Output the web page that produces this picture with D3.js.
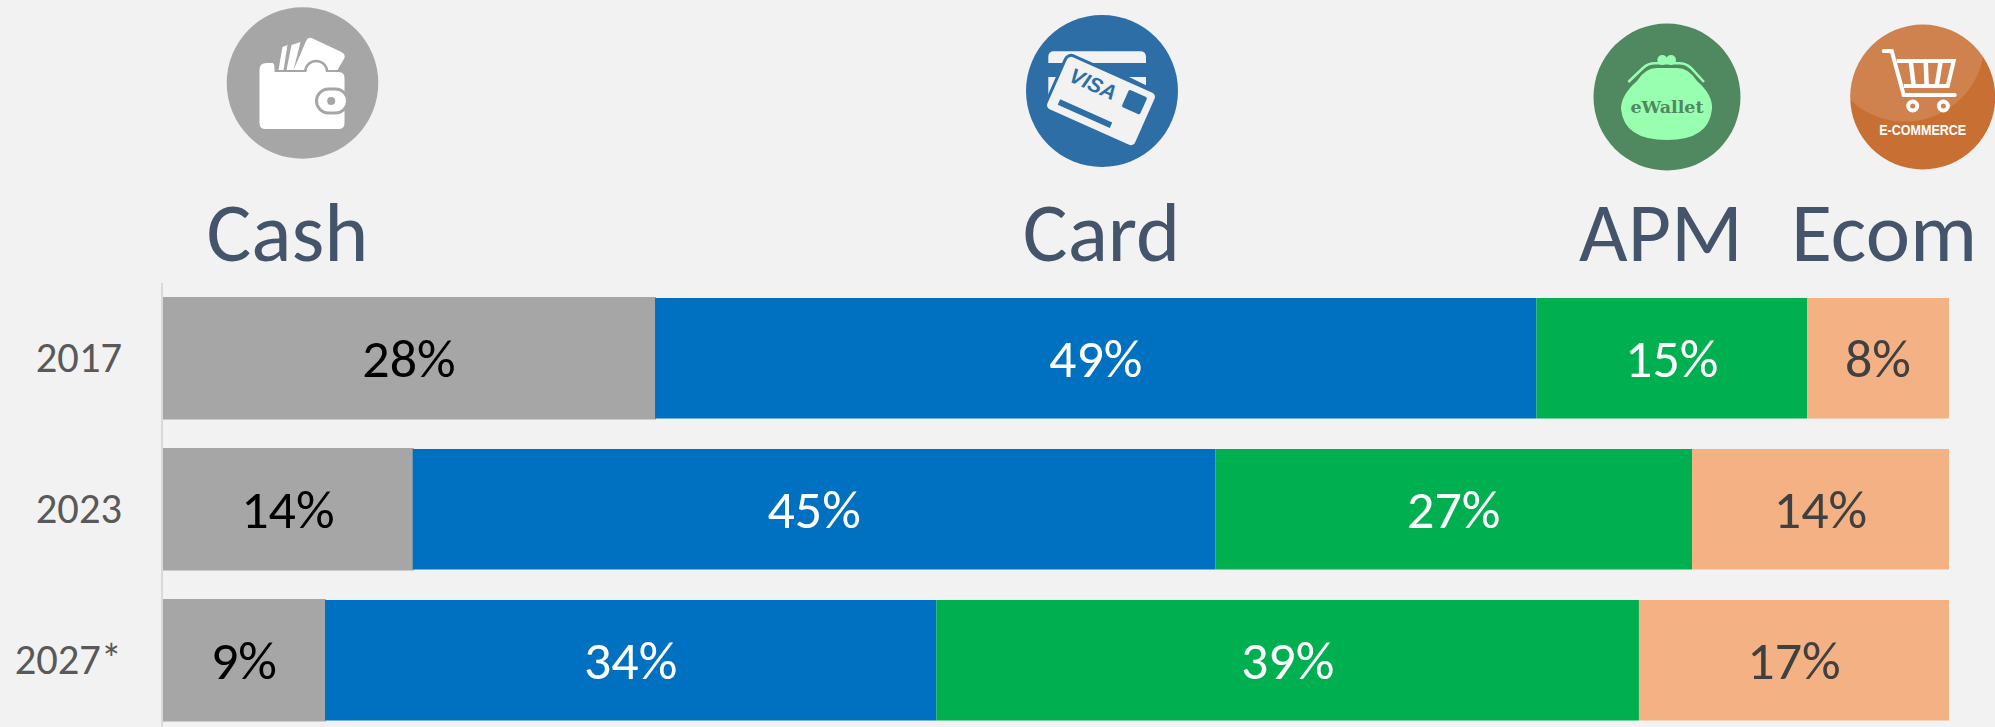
<!DOCTYPE html>
<html>
<head>
<meta charset="utf-8">
<script src="https://cdn.jsdelivr.net/npm/d3@7"></script>
<style>
html, body { margin: 0; padding: 0; background: #f2f2f2; overflow: hidden; }
text { font-family: Carlito, Lato, "Open Sans", sans-serif; }
</style>
</head>
<body>
<div id="chart"></div>
<script>
//////////////////////////// data /////////////////////////////////////////

const years = ["2017", "2023", "2027*"];
const methods = ["Cash", "Card", "APM", "Ecom"];
const cash = [27.55, 13.98, 9.07];
const card = [49.35, 44.95, 34.23];
const apm = [15.15, 26.68, 39.34];
const ecom = [7.95, 14.39, 17.36];
const cashLabels = ["28%", "14%", "9%"];
const cardLabels = ["49%", "45%", "34%"];
const apmLabels = ["15%", "27%", "39%"];
const ecomLabels = ["8%", "14%", "17%"];

const seriesValues = [cash, card, apm, ecom];
const seriesLabels = [cashLabels, cardLabels, apmLabels, ecomLabels];
const colors = ["#a6a6a6", "#0070c0", "#00b050", "#f4b183"];
const labelColors = ["#000000", "#ffffff", "#ffffff", "#404040"];

//////////////////////////// set up svg ///////////////////////////////////

const dimensions = { width: 1995, height: 727, left: 163, right: 1949, top: 298, bottom: 720.5 };

const svg = d3.select("#chart").append("svg")
	.attr("width", dimensions.width)
	.attr("height", dimensions.height)
	.style("display", "block");

const xScale = d3.scaleLinear().domain([0, 100]).range([dimensions.left, dimensions.right]);

const yScale = d3.scaleBand()
	.domain(years)
	.range([dimensions.top, dimensions.bottom])
	.paddingInner(0.202)
	.paddingOuter(0);

const rows = years.map((year, i) => {
	const row = { year };
	methods.forEach((m, j) => (row[m] = seriesValues[j][i]));
	return row;
});
const stacked = d3.stack().keys(methods)(rows);

//////////////////////////// bars /////////////////////////////////////////

const layers = svg.selectAll(".layer").data(stacked).enter().append("g")
	.attr("class", "layer")
	.attr("fill", (d, i) => colors[i]);

layers.selectAll("rect").data((d) => d).enter().append("rect")
	.attr("x", (d) => xScale(d[0]))
	.attr("y", (d) => yScale(d.data.year))
	.attr("width", (d) => xScale(d[1]) - xScale(d[0]))
	.attr("height", yScale.bandwidth());

// the grey bars stand a pixel proud of the others
layers.filter((d) => d.key === "Cash")
	.attr("stroke", colors[0])
	.attr("stroke-width", 2);

layers.selectAll("text").data((d, i) => d.map((v, k) => ({ v, label: seriesLabels[i][k], color: labelColors[i] })))
	.enter().append("text")
	.attr("x", (d) => (xScale(d.v[0]) + xScale(d.v[1])) / 2)
	.attr("y", (d) => yScale(d.v.data.year) + yScale.bandwidth() / 2 + 19)
	.attr("text-anchor", "middle")
	.attr("font-size", 54)
	.attr("stroke", "none")
	.attr("fill", (d) => d.color)
	.text((d) => d.label);

//////////////////////////// axis /////////////////////////////////////////

const yAxis = svg.append("g")
	.attr("transform", `translate(${dimensions.left - 1},0)`)
	.call(d3.axisLeft(yScale).tickSize(0).tickPadding(40));

// axis line runs past the bars, up to the headers and off the bottom
yAxis.select(".domain")
	.attr("d", "M0,283V727")
	.attr("stroke", "#d9d9d9")
	.attr("stroke-width", 2);
yAxis.selectAll("text")
	.attr("font-size", 42.5)
	.attr("fill", "#595959")
	.style("font-family", "Carlito, Lato, 'Open Sans', sans-serif");

//////////////////////////// headers and icons ////////////////////////////

const headerX = [287.5, 1101.5, 1661, 1884];
const iconX = [302.5, 1102, 1667, 1922.7];
const iconY = [83, 91, 97, 97];
const iconR = [75.8, 76, 73.5, 72.5];
const iconFill = ["#a6a6a6", "#2e6ea6", "#50885f", "#c87033"];

svg.selectAll(".header").data(methods).enter().append("text")
	.attr("class", "header")
	.attr("x", (d, i) => headerX[i])
	.attr("y", 261)
	.attr("text-anchor", "middle")
	.attr("font-size", 84)
	.attr("fill", "#44546a")
	.text((d) => d);

const icons = svg.selectAll(".icon").data(methods).enter().append("g")
	.attr("class", "icon")
	.attr("transform", (d, i) => `translate(${iconX[i]},${iconY[i]})`);

icons.append("circle")
	.attr("r", (d, i) => iconR[i])
	.attr("fill", (d, i) => iconFill[i]);

// wallet
const wallet = icons.filter((d) => d === "Cash");
wallet.append("path").attr("fill", "#fff")
	.attr("d", "M-24,-13 L-20,-36 L-15,-38 L-19,-13 Z M-16,-13 L-11,-38 L-2,-41 L-9,-13 Z M-9,-13 L4,-43 Q6,-46 9,-45 L39,-31 Q43,-29 42,-25 L35,-13 Z");
wallet.append("circle").attr("cx", 13.7).attr("cy", -11).attr("r", 11).attr("fill", "#fff")
	.attr("stroke", "#a6a6a6").attr("stroke-width", 2.5);
wallet.append("path").attr("fill", "#fff")
	.attr("d", "M-43,-13 Q-43,-20 -36,-20 L-30,-20 Q-28,-20 -28,-14 L-28,-11 L36,-11 Q42,-11 42,-5 L42,40 Q42,46 36,46 L-37,46 Q-43,46 -43,40 Z");
wallet.append("rect").attr("x", 14).attr("y", 6).attr("width", 31).attr("height", 24).attr("rx", 12)
	.attr("fill", "#fff").attr("stroke", "#a6a6a6").attr("stroke-width", 3);
wallet.append("circle").attr("cx", 28.7).attr("cy", 18).attr("r", 4).attr("fill", "#a6a6a6");

// card
const cardIcon = icons.filter((d) => d === "Card");
cardIcon.append("path").attr("fill", "#f2f2f2")
	.attr("d", "M-53.7,-34 Q-53.7,-39.7 -48,-39.7 L38,-39.7 Q44,-39.7 44,-34 L44,-28 L-53.7,-28 Z M-53.7,-14 L-38,-14 L-53.7,9 Z M27,-14 L44,-14 L44,-5.7 Z");
const cardFront = cardIcon.append("g").attr("transform", "translate(-1,10) rotate(24)");
cardFront.append("rect").attr("x", -49.5).attr("y", -30).attr("width", 99).attr("height", 60).attr("rx", 6)
	.attr("fill", "#f2f2f2").attr("stroke", "#2e6ea6").attr("stroke-width", 3);
cardFront.append("text").attr("x", -14).attr("y", -5).attr("text-anchor", "middle").attr("font-size", 21)
	.attr("font-weight", 700).attr("font-style", "italic").attr("fill", "#2e6ea6")
	.style("font-family", "'Liberation Sans', sans-serif").text("VISA");
cardFront.append("rect").attr("x", 21).attr("y", -22).attr("width", 20).attr("height", 19).attr("rx", 2).attr("fill", "#2e6ea6");
cardFront.append("rect").attr("x", -38).attr("y", 15).attr("width", 57).attr("height", 6).attr("fill", "#2e6ea6");

// purse
const purse = icons.filter((d) => d === "APM");
purse.append("circle").attr("cx", -4.7).attr("cy", -37).attr("r", 5).attr("fill", "#99ffb0");
purse.append("circle").attr("cx", 4).attr("cy", -37).attr("r", 5).attr("fill", "#99ffb0");
purse.append("path").attr("fill", "none").attr("stroke", "#99ffb0").attr("stroke-width", 2.5)
	.attr("d", "M-38.7,-15 L-24,-29 Q-19,-33.7 -12,-33.7 L12,-33.7 Q19,-33.7 24,-29 L37,-15");
purse.append("path").attr("fill", "#99ffb0")
	.attr("d", "M-30,-16 Q-22,-29 -10,-29 L10,-29 Q22,-29 30,-16 Q46,-2 45,12 Q42,43 0,43 Q-43,43 -46,12 Q-46,-2 -30,-16 Z");
purse.append("text").attr("y", 15.7).attr("text-anchor", "middle").attr("font-size", 17.5).attr("font-weight", 700)
	.attr("fill", "#50885f").style("font-family", "'DejaVu Serif', serif").text("eWallet");

// cart
const cart = icons.filter((d) => d === "Ecom");
cart.append("path").attr("fill", "#ffffff").attr("opacity", 0.13)
	.attr("d", "M-72.5,3 A72.5,72.5 0 0 1 60.7,-40.3 A80,80 0 0 1 -72.5,3 Z");
cart.append("path").attr("fill", "none").attr("stroke", "#fff").attr("stroke-width", 4).attr("stroke-linecap", "round")
	.attr("d", "M-39,-46 L-31,-46 L-19,-2 L32,-2");
cart.append("path").attr("fill", "none").attr("stroke", "#fff").attr("stroke-width", 4)
	.attr("d", "M-26,-36 L31,-36 L25,-11 L-19,-11");
cart.append("path").attr("fill", "none").attr("stroke", "#fff").attr("stroke-width", 4.5)
	.attr("d", "M-12,-36 L-9,-11 M3,-36 L4,-11 M18,-36 L14,-11");
cart.append("circle").attr("cx", -10).attr("cy", 9).attr("r", 4.5).attr("fill", "none").attr("stroke", "#fff").attr("stroke-width", 4);
cart.append("circle").attr("cx", 20.7).attr("cy", 9).attr("r", 4.5).attr("fill", "none").attr("stroke", "#fff").attr("stroke-width", 4);
cart.append("text").attr("y", 38).attr("text-anchor", "middle").attr("font-size", 14).attr("font-weight", 700)
	.attr("textLength", 87).attr("lengthAdjust", "spacingAndGlyphs")
	.attr("fill", "#fff").style("font-family", "'Liberation Sans', sans-serif").text("E-COMMERCE");
</script>
</body>
</html>
